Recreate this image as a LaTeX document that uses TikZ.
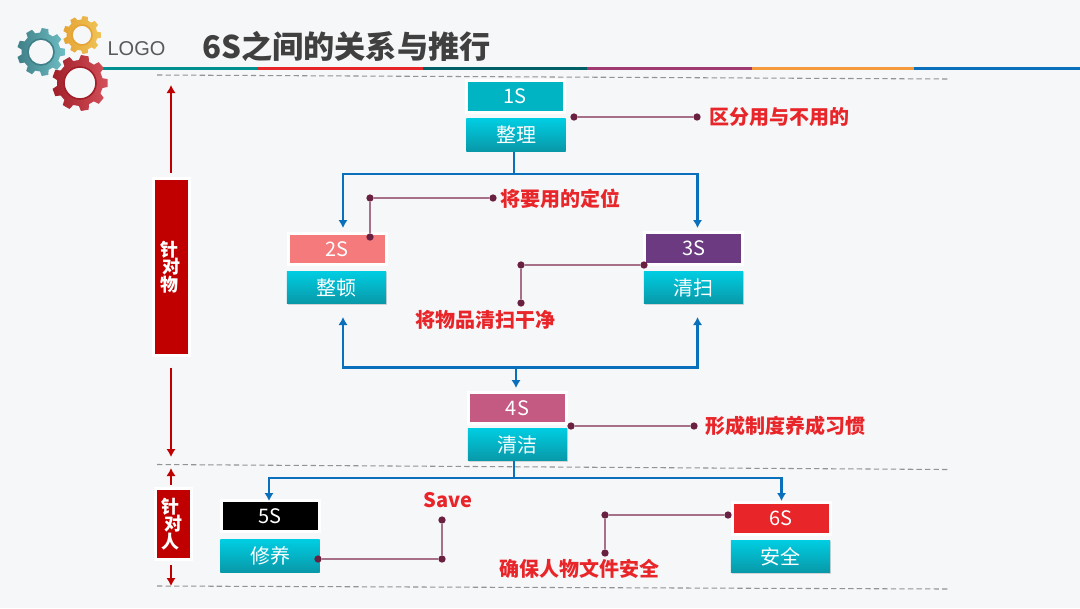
\documentclass[tikz,border=0pt]{standalone}
\usepackage{fontspec}
\setmainfont{Noto Sans CJK SC}
\usetikzlibrary{arrows.meta,shadows}
\definecolor{pagebg}{HTML}{F6F7F9}
\definecolor{flowblue}{HTML}{0B70BC}
\definecolor{sidered}{HTML}{C00000}
\definecolor{calloutred}{HTML}{E8262A}
\definecolor{dotplum}{HTML}{6A2040}
\definecolor{leadplum}{HTML}{A67088}
\definecolor{nametop}{HTML}{00CDE2}
\definecolor{namebot}{HTML}{0898A8}
\definecolor{barteal}{HTML}{009090}
\definecolor{bardeep}{HTML}{005F66}
\definecolor{barplum}{HTML}{A03A70}
\definecolor{barorange}{HTML}{F79A3C}
\definecolor{stepA}{HTML}{00B4C4}
\definecolor{stepB}{HTML}{F47A7C}
\definecolor{stepC}{HTML}{6B3A80}
\definecolor{stepD}{HTML}{C45A82}
\definecolor{gearAl}{HTML}{3F7F88}
\definecolor{gearAr}{HTML}{6FBEC4}
\definecolor{gearBl}{HTML}{E5A435}
\definecolor{gearBr}{HTML}{F0C458}
\definecolor{gearCl}{HTML}{A01F28}
\definecolor{gearCr}{HTML}{D4505A}
\newcommand{\fs}[1]{\fontsize{#1}{#1}\selectfont}
% x y teeth outer root hole left right
\newcommand{\gearwheel}[8]{
  \pgfmathsetmacro{\gstep}{360/#3}
  \shade[shift={(#1,#2)},even odd rule,left color=#7,right color=#8]
    (-0.3*\gstep:#5) \foreach \k in {1,...,#3} {
      -- ({(\k-1)*\gstep-0.2*\gstep}:#4) -- ({(\k-1)*\gstep+0.2*\gstep}:#4)
      -- ({(\k-1)*\gstep+0.32*\gstep}:#5) -- ({(\k-1)*\gstep+0.68*\gstep}:#5)
    } -- cycle (0,0) circle (#6);
  \draw[shift={(#1,#2)},#7,line width=1.2pt] (0,0) circle (#6);
}
\tikzset{
  framebox/.style={draw=white,line width=2.25pt,text=white,inner sep=0pt,
    minimum width=73.5pt,minimum height=23.5pt,font=\fs{15},
    drop shadow={shadow xshift=0.6pt,shadow yshift=-0.8pt,opacity=.3}},
  namebox/.style={top color=nametop,bottom color=namebot,text=white,inner sep=0pt,
    minimum width=74.5pt,minimum height=24.5pt,font=\fs{15},
    drop shadow={shadow xshift=0.6pt,shadow yshift=-0.8pt,opacity=.3}},
  sidebox/.style={draw=white,line width=2.25pt,fill=sidered,text=white,inner sep=0pt,
    align=center,font=\fs{13.5}\bfseries,
    drop shadow={shadow xshift=0.6pt,shadow yshift=-0.8pt,opacity=.3}},
  callout/.style={text=calloutred,font=\fs{15}\bfseries,inner sep=0pt},
  dotmark/.style={circle,fill=dotplum,inner sep=0pt,minimum size=5.5pt},
  leadline/.style={leadplum,line width=0.9pt},
  flowline/.style={flowblue,line width=1.7pt},
  sideline/.style={sidered,line width=1.5pt},
  dashline/.style={gray!85,line width=0.8pt,dash pattern=on 4pt off 2.4pt}
}
\begin{document}
\begin{tikzpicture}[x=0.75pt,y=-0.75pt,>={Latex[length=6pt,width=7pt]}]
  \useasboundingbox (0,0) rectangle (1080,608);
  \fill[pagebg] (0,0) rectangle (1080,608);
  % header bar
  \fill[barteal] (100,66.5) rectangle (257,70);
  \fill[calloutred] (257,66.5) rectangle (422.5,70);
  \fill[bardeep] (422.5,66.5) rectangle (587,70);
  \fill[barplum] (587,66.5) rectangle (752,70);
  \fill[barorange] (752,66.5) rectangle (914,70);
  \fill[flowblue] (914,66.5) rectangle (1080,70);
  \gearwheel{41}{52}{9}{24}{19.5}{13}{gearAl}{gearAr}
  \gearwheel{82}{35}{9}{19}{15.5}{10}{gearBl}{gearBr}
  \gearwheel{80}{83}{9}{28}{23}{16}{gearCl}{gearCr}
  \node[text=black!65,inner sep=0pt,font=\fs{15}\fontspec{Liberation Sans}] (logotext) at (136.5,48.5) {LOGO};
  \node[text=black!75,inner sep=0pt,font=\fs{23.4}\bfseries] (pagetitle) at (346.5,46) {6S之间的关系与推行};
  % dashed rows
  \coordinate (dashAl) at (157,75);
  \coordinate (dashAr) at (948,79);
  \coordinate (dashBl) at (157,464.5);
  \coordinate (dashBr) at (948,469.5);
  \coordinate (dashCl) at (157,586);
  \coordinate (dashCr) at (948,589);
  \draw[dashline] (dashAl) -- (dashAr);
  \draw[dashline] (dashBl) -- (dashBr);
  \draw[dashline] (dashCl) -- (dashCr);
  % side boxes
  \node[sidebox,minimum width=27.5pt,minimum height=132.5pt] (sideThing) at (171.5,267) {针\hspace*{3.5pt}\\[-0.5pt]对\hspace*{3.5pt}\\[-0.5pt]物\hspace*{3.5pt}};
  \node[sidebox,minimum width=27pt,minimum height=53pt] (sidePerson) at (173.5,524) {针\hspace*{4.5pt}\\[-0.5pt]对\hspace*{4.5pt}\\[-0.5pt]人\hspace*{4.5pt}};
  \coordinate (thingTop) at (171,85);
  \coordinate (thingEnd) at (171,457);
  \coordinate (personTop) at (171,468);
  \coordinate (personEnd) at (171,586);
  \draw[sideline,->,shorten <=3.5pt] (sideThing.north -| thingTop) -- (thingTop);
  \draw[sideline,->,shorten <=8pt] (sideThing.south -| thingEnd) -- (thingEnd);
  \draw[sideline,->,shorten <=1.5pt] (sidePerson.north -| personTop) -- (personTop);
  \draw[sideline,->,shorten <=3pt] (sidePerson.south -| personEnd) -- (personEnd);
  % step boxes
  \node[framebox,fill=stepA] (frameA) at (515,96.5) {1S};
  \node[namebox] (nameA) at (516,135) {整理};
  \node[framebox,fill=stepB] (frameB) at (337,249) {2S};
  \node[namebox] (nameB) at (336.5,287.5) {整顿};
  \node[framebox,fill=stepC] (frameC) at (693.5,248.5) {3S};
  \node[namebox] (nameC) at (693.5,287.5) {清扫};
  \node[framebox,fill=stepD] (frameD) at (517.5,408) {4S};
  \node[namebox] (nameD) at (517.5,444.5) {清洁};
  \node[framebox,fill=black] (frameE) at (270,516) {5S};
  \node[namebox] (nameE) at (270,556) {修养};
  \node[framebox,fill=calloutred] (frameF) at (781,518.5) {6S};
  \node[namebox] (nameF) at (780.5,556.5) {安全};
  % flow lines
  \coordinate (topJoin) at (514,174);
  \coordinate (topLeft) at (343,174);
  \coordinate (topRight) at (697.5,174);
  \coordinate (inB) at (343,228);
  \coordinate (inC) at (697.5,228);
  \coordinate (upB) at (343,317);
  \coordinate (upC) at (697.5,317);
  \coordinate (midLeft) at (343,367.5);
  \coordinate (midRight) at (697.5,367.5);
  \coordinate (midJoin) at (516,367.5);
  \coordinate (inD) at (516,388);
  \coordinate (lowJoin) at (514,478);
  \coordinate (lowLeft) at (269,478);
  \coordinate (lowRight) at (781.5,478);
  \coordinate (inE) at (269,501);
  \coordinate (inF) at (781.5,501);
  \draw[flowline] (nameA.south -| topJoin) -- (topJoin);
  \draw[flowline,<->] (inB) -- (topLeft) -- (topRight) -- (inC);
  \draw[flowline,<->] (upB) -- (midLeft) -- (midRight) -- (upC);
  \draw[flowline,->] (midJoin) -- (inD);
  \draw[flowline] (nameD.south -| lowJoin) -- (lowJoin);
  \draw[flowline,<->] (inE) -- (lowLeft) -- (lowRight) -- (inF);
  % callouts
  \node[dotmark] (dotAa) at (574,117) {};
  \node[dotmark] (dotAb) at (697,117) {};
  \draw[leadline] (dotAa) -- (dotAb);
  \node[callout] (textA) at (779,117) {区分用与不用的};
  \node[dotmark] (dotBa) at (370,237) {};
  \node[dotmark] (dotBb) at (370,198) {};
  \node[dotmark] (dotBc) at (493,198) {};
  \draw[leadline] (dotBa) -- (dotBb) -- (dotBc);
  \node[callout] (textB) at (560.5,199) {将要用的定位};
  \node[dotmark] (dotCa) at (644,265) {};
  \node[dotmark] (dotCb) at (521,265) {};
  \node[dotmark] (dotCc) at (521,303) {};
  \draw[leadline] (dotCa) -- (dotCb) -- (dotCc);
  \node[callout] (textC) at (485,319.5) {将物品清扫干净};
  \node[dotmark] (dotDa) at (571,426) {};
  \node[dotmark] (dotDb) at (694,426) {};
  \draw[leadline] (dotDa) -- (dotDb);
  \node[callout] (textD) at (785,426) {形成制度养成习惯};
  \node[dotmark] (dotEa) at (318,559) {};
  \node[dotmark] (dotEb) at (442,559) {};
  \node[dotmark] (dotEc) at (442,520) {};
  \draw[leadline] (dotEa) -- (dotEb) -- (dotEc);
  \node[callout] (textE) at (448,500) {Save};
  \node[dotmark] (dotFa) at (728,515) {};
  \node[dotmark] (dotFb) at (605,515) {};
  \node[dotmark] (dotFc) at (605,553) {};
  \draw[leadline] (dotFa) -- (dotFb) -- (dotFc);
  \node[callout] (textF) at (579.5,569) {确保人物文件安全};
\end{tikzpicture}
\end{document}
